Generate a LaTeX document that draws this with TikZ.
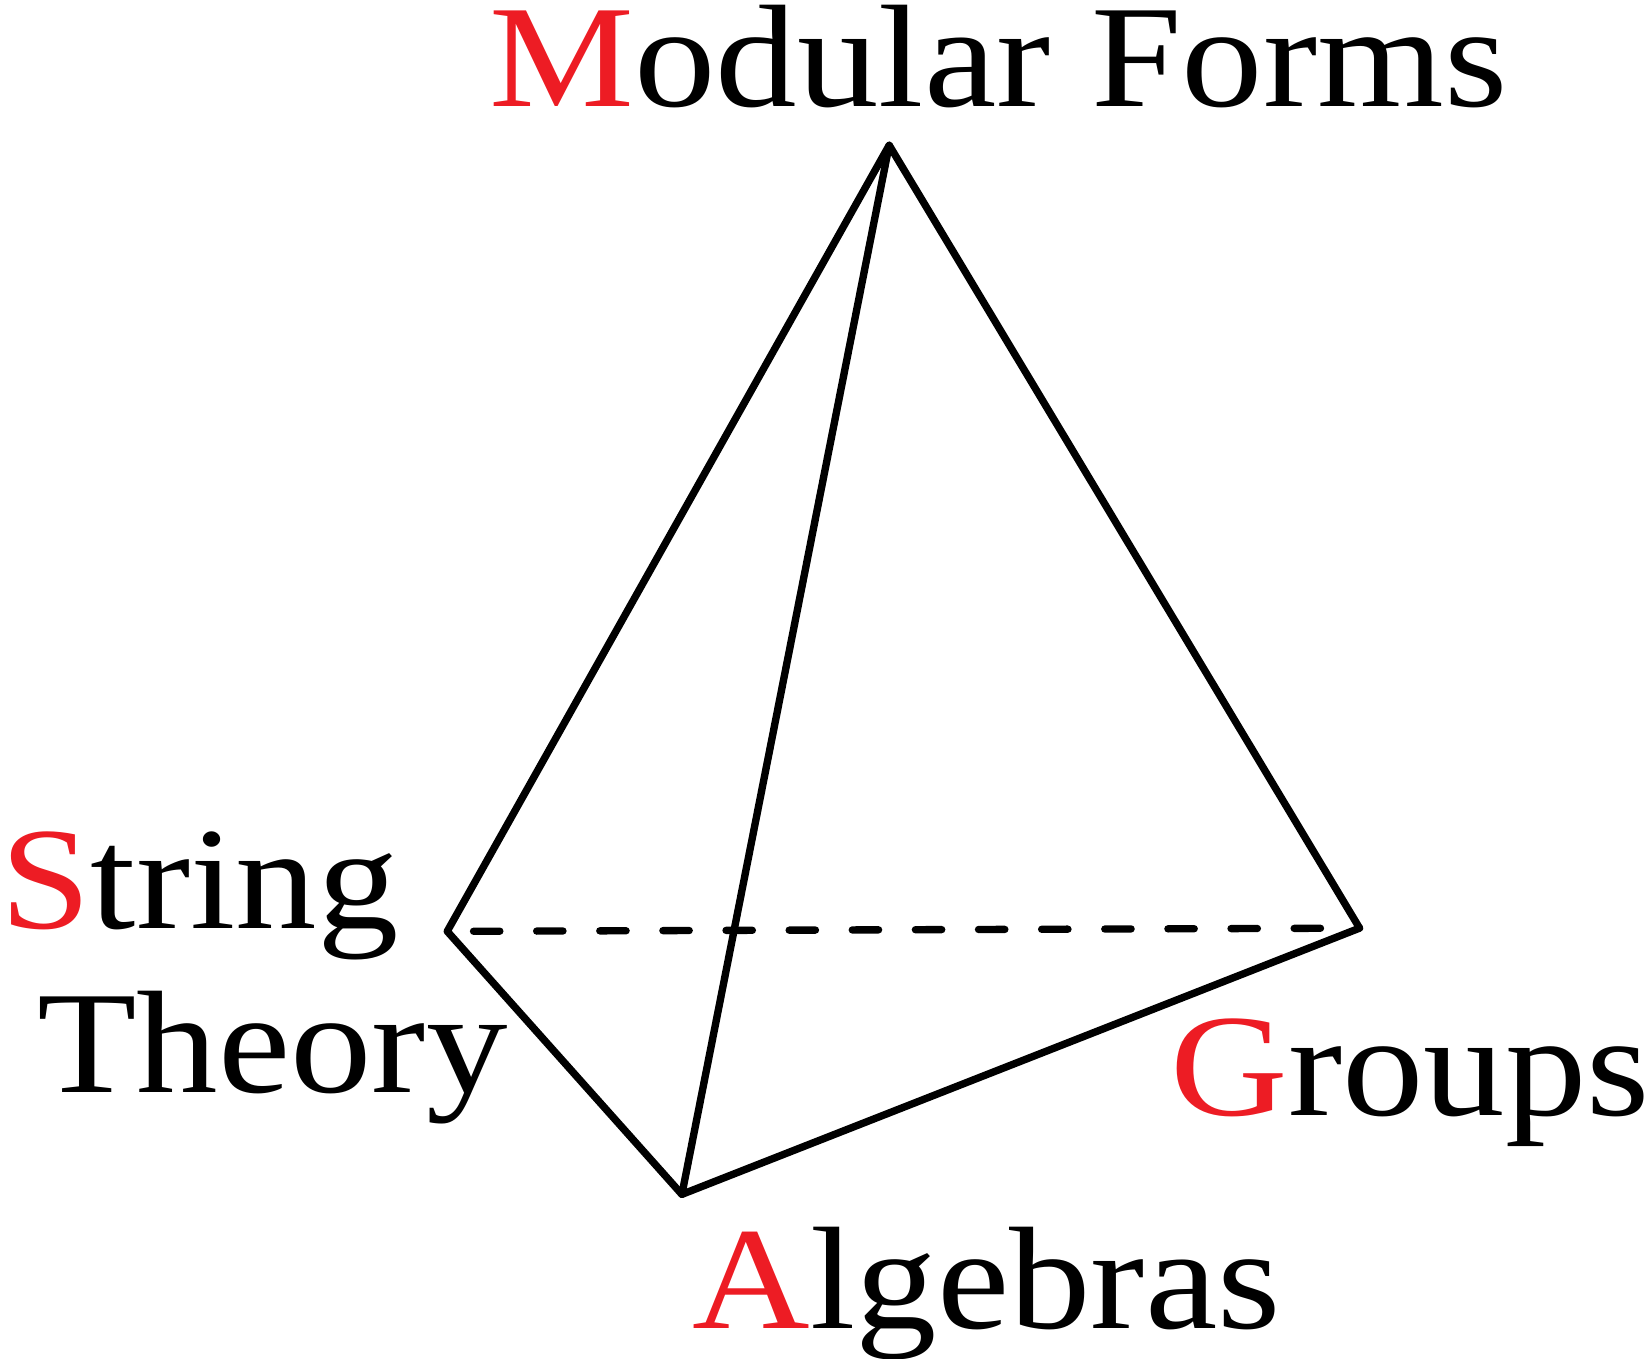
\documentclass[tikz,border=0pt]{standalone}
\usepackage{fontspec}
\setmainfont{Liberation Serif}
\definecolor{lred}{RGB}{237,28,36}
\newcommand{\wide}[1]{\scalebox{1.115}[1]{#1}}
\begin{document}
\begin{tikzpicture}[x=0.02cm,y=-0.02cm,
  edge/.style={line width=0.14cm,line join=round,line cap=round},
  lbl/.style={anchor=base west,inner sep=0pt,font=\fontsize{79}{90}\selectfont}]
\useasboundingbox (0,0) rectangle (1568,1291);
\coordinate (T) at (845,138);
\coordinate (L) at (425,885);
\coordinate (B) at (648,1135);
\coordinate (R) at (1292,882);
\draw[edge] (T) -- (L) -- (B) -- (R) -- cycle;
\draw[edge] (T) -- (B);
\draw[edge,dash pattern=on 0.5cm off 0.7cm] (450,885) -- (R);
\node[lbl] (m) at (465,101) {\wide{\textcolor{lred}{M}odular Forms}};
\node[lbl] (s) at (0,882) {\wide{\textcolor{lred}{S}tring}};
\node[lbl] (t) at (35,1038) {\wide{Theory}};
\node[lbl] (g) at (1112,1060) {\wide{\textcolor{lred}{G}roups}};
\node[lbl] (a) at (658,1262) {\wide{\textcolor{lred}{A}lgebras}};
\end{tikzpicture}
\end{document}
